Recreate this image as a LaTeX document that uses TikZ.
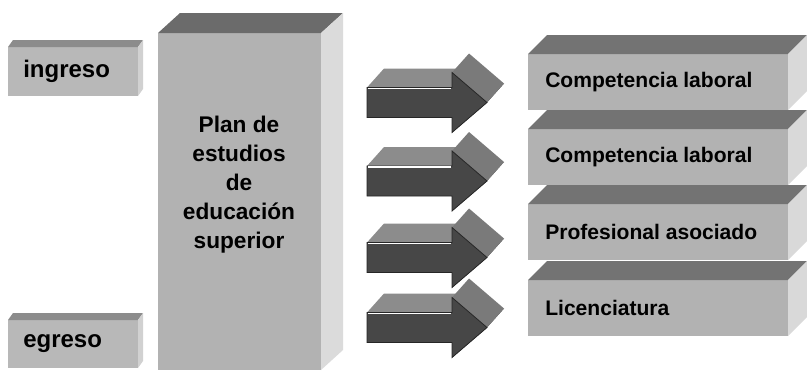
\documentclass[tikz,border=0pt]{standalone}
\usepackage{fontspec}
\setmainfont{Liberation Sans}
\begin{document}
\begin{tikzpicture}[x=0.75pt,y=-0.75pt,
  frontc/.style={fill=#1},
  lbl/.style={font=\bfseries\fontsize{18}{22}\selectfont, text=black, inner sep=0pt},
  rlbl/.style={font=\bfseries\fontsize{15.8}{19}\selectfont, text=black, inner sep=0pt, anchor=west},
  plbl/.style={font=\bfseries\fontsize{17}{21.75}\selectfont, text=black, inner sep=0pt, align=center}]
\useasboundingbox (0,0) rectangle (807,375);
% 3D box: #1 x1, #2 y1, #3 x2, #4 y2, #5 dx, #6 dy, #7 front, #8 top, #9 side
\newcommand{\boxthree}[9]{%
  \fill[#7] (#1,#2) rectangle (#3,#4);
  \fill[#8] (#1,#2) -- (#3,#2) -- ++(#5,#6) -- ([shift={(#5,#6)}]#1,#2) -- cycle;
  \fill[#9] (#3,#2) -- (#3,#4) -- ++(#5,#6) -- ([shift={(#5,#6)}]#3,#2) -- cycle;
}
% block arrow: #1 = vertical centre
\newcommand{\blockarrow}[1]{%
  \fill[black!75] (487,#1) -- (452,#1+30) -- ++(17,-19) -- (504,#1-19) -- cycle;
  \fill[black!45] (367,#1-15) -- (452,#1-15) -- ++(17,-19) -- (384,#1-34) -- cycle;
  \fill[black!52] (452,#1-30) -- (487,#1) -- ++(17,-19) -- (469,#1-49) -- cycle;
  \fill[black!72, draw=black!85, line width=0.6pt] (367,#1-15) -- (452,#1-15) -- (452,#1-30) -- (487,#1) -- (452,#1+30) -- (452,#1+15) -- (367,#1+15) -- cycle;
  \draw[white, line width=1.2pt] (368,#1-14) -- (451,#1-14);
}
% left boxes
\boxthree{8}{47}{138}{96}{5}{-7}{black!28}{black!45}{black!18}
\boxthree{8}{320}{138}{368}{5}{-7}{black!28}{black!45}{black!18}
% big box
\boxthree{158}{33}{321}{370}{22}{-20}{black!30}{black!58}{black!14}
% arrows
\blockarrow{102.5}
\blockarrow{181}
\blockarrow{257.5}
\blockarrow{327.5}
% right boxes
\boxthree{528}{54}{788}{110}{19}{-19}{black!30}{black!55}{black!15}
\boxthree{528}{129}{788}{185}{19}{-19}{black!30}{black!55}{black!15}
\boxthree{528}{204}{788}{260}{19}{-19}{black!30}{black!55}{black!15}
\boxthree{528}{280}{788}{336}{19}{-19}{black!30}{black!55}{black!15}
% texts
\node[lbl, anchor=west] (ingreso) at (23,71) {ingreso};
\node[lbl, anchor=west] (egreso) at (23,344) {egreso};
\node[plbl] (plan) at (239,185) {Plan de\\estudios\\de\\educación\\superior};
\node[rlbl] (c1) at (545,82) {Competencia laboral};
\node[rlbl] (c2) at (545,157) {Competencia laboral};
\node[rlbl] (c3) at (545,232) {Profesional asociado};
\node[rlbl] (c4) at (545,308) {Licenciatura};
\end{tikzpicture}
\end{document}
